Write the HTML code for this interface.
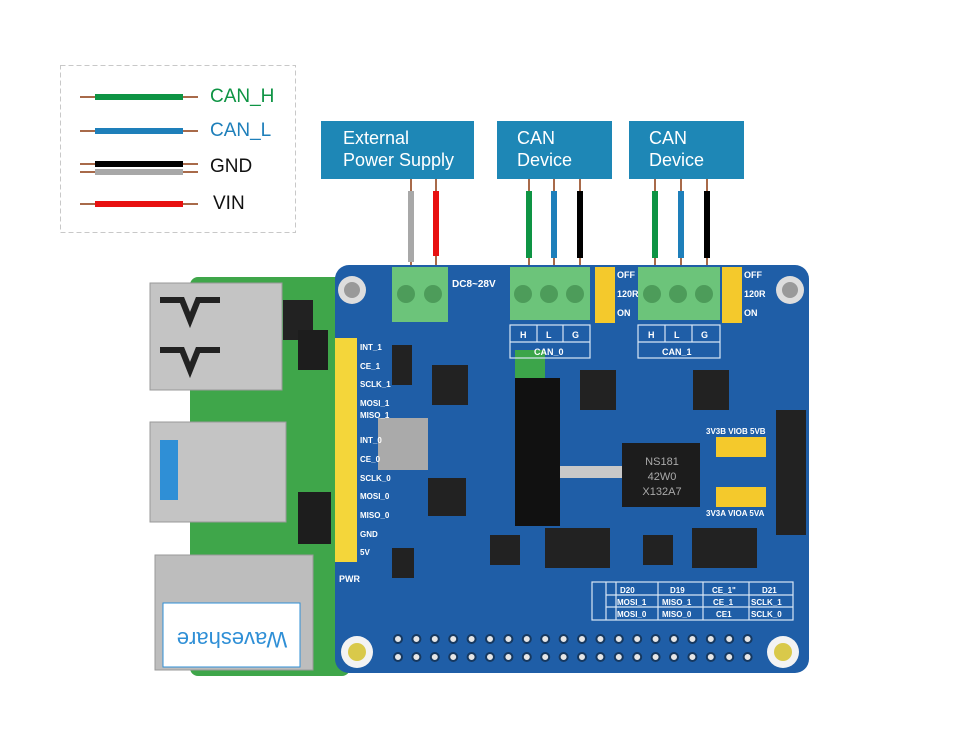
<!DOCTYPE html>
<html><head><meta charset="utf-8"><style>
html,body{margin:0;padding:0;background:#fff;}
body{width:960px;height:750px;overflow:hidden;position:relative;font-family:"Liberation Sans","Noto Sans CJK SC",sans-serif;}
.box{position:absolute;background:#1e87b6;color:#fff;font-size:18px;line-height:22px;padding:6px 0 0 0;box-sizing:border-box;}
.lg{position:absolute;font-size:19px;}
</style></head><body>
<svg width="960" height="750" style="position:absolute;left:0;top:0" xmlns="http://www.w3.org/2000/svg">
<!-- legend -->
<rect x="60.5" y="65.5" width="235" height="167" fill="none" stroke="#c8c8c8" stroke-dasharray="5,3"/>
<g stroke-linecap="butt">
<line x1="80" y1="97" x2="198" y2="97" stroke="#a86a4a" stroke-width="2"/><line x1="95" y1="97" x2="183" y2="97" stroke="#0e9444" stroke-width="6"/>
<line x1="80" y1="131" x2="198" y2="131" stroke="#a86a4a" stroke-width="2"/><line x1="95" y1="131" x2="183" y2="131" stroke="#1e7fba" stroke-width="6"/>
<line x1="80" y1="164" x2="198" y2="164" stroke="#a86a4a" stroke-width="2"/><line x1="95" y1="164" x2="183" y2="164" stroke="#000" stroke-width="6"/>
<line x1="80" y1="172" x2="198" y2="172" stroke="#a86a4a" stroke-width="2"/><line x1="95" y1="172" x2="183" y2="172" stroke="#a8a8a8" stroke-width="6"/>
<line x1="80" y1="204" x2="198" y2="204" stroke="#a86a4a" stroke-width="2"/><line x1="95" y1="204" x2="183" y2="204" stroke="#e81010" stroke-width="6"/>
</g>
<!-- wires -->
<g stroke-width="2" stroke="#a86a4a">
<line x1="411" y1="178" x2="411" y2="270"/><line x1="436" y1="178" x2="436" y2="270"/>
<line x1="529" y1="178" x2="529" y2="275"/><line x1="554" y1="178" x2="554" y2="275"/><line x1="580" y1="178" x2="580" y2="275"/>
<line x1="655" y1="178" x2="655" y2="275"/><line x1="681" y1="178" x2="681" y2="275"/><line x1="707" y1="178" x2="707" y2="275"/>
</g>
<g stroke-width="6">
<line x1="411" y1="191" x2="411" y2="262" stroke="#a8a8a8"/><line x1="436" y1="191" x2="436" y2="256" stroke="#e81010"/>
<line x1="529" y1="191" x2="529" y2="258" stroke="#0e9444"/><line x1="554" y1="191" x2="554" y2="258" stroke="#1e7fba"/><line x1="580" y1="191" x2="580" y2="258" stroke="#000"/>
<line x1="655" y1="191" x2="655" y2="258" stroke="#0e9444"/><line x1="681" y1="191" x2="681" y2="258" stroke="#1e7fba"/><line x1="707" y1="191" x2="707" y2="258" stroke="#000"/>
</g>
<!-- Pi board -->
<rect x="190" y="277" width="160" height="399" rx="8" fill="#3fa64a"/>
<rect x="283" y="300" width="30" height="40" fill="#222"/><rect x="298" y="330" width="30" height="40" fill="#1d1d1d"/>
<rect x="298" y="492" width="33" height="52" fill="#1d1d1d"/>
<rect x="150" y="283" width="132" height="107" fill="#c4c4c4" stroke="#999"/>
<path d="M160 300 l22 0 l8 20 l8 -20 l22 0" stroke="#222" stroke-width="6" fill="none"/>
<path d="M160 350 l22 0 l8 20 l8 -20 l22 0" stroke="#222" stroke-width="6" fill="none"/>
<rect x="150" y="422" width="136" height="100" fill="#c4c4c4" stroke="#999"/>
<rect x="160" y="440" width="18" height="60" fill="#2f8fd6"/>
<rect x="155" y="555" width="158" height="115" fill="#bdbdbd" stroke="#999"/>
<rect x="163" y="603" width="137" height="64" fill="#fff" stroke="#2f8fd6"/>
<text x="232" y="648" font-size="22" fill="#2f8fd6" text-anchor="middle" transform="rotate(180 232 640)" font-family="Liberation Sans">Waveshare</text>
<!-- HAT -->
<rect x="335" y="265" width="474" height="408" rx="14" fill="#1f5ea7"/>
<rect x="515" y="350" width="30" height="80" fill="#3ca54a"/>
<rect x="515" y="378" width="45" height="148" fill="#111"/>
<rect x="560" y="466" width="65" height="12" fill="#c8c8c8"/>
<rect x="622" y="443" width="78" height="64" fill="#1c1c1c"/>
<text x="662" y="465" font-size="11" fill="#aaa" text-anchor="middle">NS181</text>
<text x="662" y="480" font-size="11" fill="#aaa" text-anchor="middle">42W0</text>
<text x="662" y="495" font-size="11" fill="#aaa" text-anchor="middle">X132A7</text>
<rect x="378" y="418" width="50" height="52" fill="#aaa"/>
<rect x="776" y="410" width="30" height="125" fill="#222"/>
<g fill="#222">
<rect x="432" y="365" width="36" height="40"/><rect x="580" y="370" width="36" height="40"/><rect x="693" y="370" width="36" height="40"/>
<rect x="428" y="478" width="38" height="38"/><rect x="545" y="528" width="65" height="40"/><rect x="692" y="528" width="65" height="40"/>
<rect x="490" y="535" width="30" height="30"/><rect x="643" y="535" width="30" height="30"/><rect x="392" y="548" width="22" height="30"/>
</g>
<rect x="392" y="345" width="20" height="40" fill="#222"/>
<!-- terminals -->
<rect x="392" y="267" width="56" height="55" fill="#6cc47a"/>
<circle cx="406" cy="294" r="9" fill="#4d9c5a"/><circle cx="433" cy="294" r="9" fill="#4d9c5a"/>
<rect x="510" y="267" width="80" height="53" fill="#6cc47a"/>
<circle cx="523" cy="294" r="9" fill="#4d9c5a"/><circle cx="549" cy="294" r="9" fill="#4d9c5a"/><circle cx="575" cy="294" r="9" fill="#4d9c5a"/>
<rect x="638" y="267" width="82" height="53" fill="#6cc47a"/>
<circle cx="652" cy="294" r="9" fill="#4d9c5a"/><circle cx="678" cy="294" r="9" fill="#4d9c5a"/><circle cx="704" cy="294" r="9" fill="#4d9c5a"/>
<rect x="595" y="267" width="20" height="56" fill="#f4c92c"/><rect x="722" y="267" width="20" height="56" fill="#f4c92c"/>
<rect x="716" y="437" width="50" height="20" fill="#f4c92c"/><rect x="716" y="487" width="50" height="20" fill="#f4c92c"/>
<rect x="335" y="338" width="22" height="224" fill="#f4d63a"/>
<!-- mounting holes -->
<circle cx="352" cy="290" r="14" fill="#ddd"/><circle cx="352" cy="290" r="8" fill="#999"/>
<circle cx="790" cy="290" r="14" fill="#ddd"/><circle cx="790" cy="290" r="8" fill="#999"/>
<circle cx="357" cy="652" r="16" fill="#f3f3f3"/><circle cx="357" cy="652" r="9" fill="#d9c94a"/>
<circle cx="783" cy="652" r="16" fill="#f3f3f3"/><circle cx="783" cy="652" r="9" fill="#d9c94a"/>
<!-- header holes -->
<g fill="#e6e6e6" stroke="#1a3f70" stroke-width="2">
<script></script>
</g>
<g id="holes"></g>
<!-- CAN labels -->
<g stroke="#d8e6f5" stroke-width="1.2" fill="none">
<rect x="510" y="325" width="80" height="33"/><line x1="510" y1="342" x2="590" y2="342"/><line x1="537" y1="325" x2="537" y2="342"/><line x1="563" y1="325" x2="563" y2="342"/>
<rect x="638" y="325" width="82" height="33"/><line x1="638" y1="342" x2="720" y2="342"/><line x1="665" y1="325" x2="665" y2="342"/><line x1="692" y1="325" x2="692" y2="342"/>
<rect x="592" y="582" width="201" height="38"/><line x1="606" y1="582" x2="606" y2="620"/><line x1="616" y1="582" x2="616" y2="620"/><line x1="606" y1="595" x2="793" y2="595"/><line x1="606" y1="607" x2="793" y2="607"/>
<line x1="658" y1="582" x2="658" y2="620"/><line x1="703" y1="582" x2="703" y2="620"/><line x1="749" y1="582" x2="749" y2="620"/>
</g>
<g fill="#fff" font-size="9" font-weight="bold" font-family="Liberation Sans">
<text x="520" y="338">H</text><text x="546" y="338">L</text><text x="572" y="338">G</text><text x="534" y="355">CAN_0</text>
<text x="648" y="338">H</text><text x="674" y="338">L</text><text x="701" y="338">G</text><text x="662" y="355">CAN_1</text>
<text x="452" y="287" font-size="10">DC8~28V</text>
<text x="617" y="278">OFF</text><text x="617" y="297">120R</text><text x="617" y="316">ON</text>
<text x="744" y="278">OFF</text><text x="744" y="297">120R</text><text x="744" y="316">ON</text>
<text x="706" y="434" font-size="8">3V3B VIOB 5VB</text><text x="706" y="516" font-size="8">3V3A VIOA 5VA</text>
<text x="339" y="582">PWR</text>
<g font-size="8"><text x="620" y="593">D20</text><text x="670" y="593">D19</text><text x="712" y="593">CE_1"</text><text x="762" y="593">D21</text>
<text x="617" y="605">MOSI_1</text><text x="662" y="605">MISO_1</text><text x="713" y="605">CE_1</text><text x="751" y="605">SCLK_1</text>
<text x="617" y="617">MOSI_0</text><text x="662" y="617">MISO_0</text><text x="716" y="617">CE1</text><text x="751" y="617">SCLK_0</text>
<text x="360" y="350">INT_1</text><text x="360" y="369">CE_1</text><text x="360" y="387">SCLK_1</text><text x="360" y="406">MOSI_1</text><text x="360" y="418">MISO_1</text>
<text x="360" y="443">INT_0</text><text x="360" y="462">CE_0</text><text x="360" y="481">SCLK_0</text><text x="360" y="499">MOSI_0</text><text x="360" y="518">MISO_0</text>
<text x="360" y="537">GND</text><text x="360" y="555">5V</text></g>
</g>
<g fill="#e6e6e6" stroke="#16385f" stroke-width="2">
<circle cx="398" cy="639" r="4"/><circle cx="416.4" cy="639" r="4"/><circle cx="434.8" cy="639" r="4"/><circle cx="453.2" cy="639" r="4"/><circle cx="471.6" cy="639" r="4"/><circle cx="490" cy="639" r="4"/><circle cx="508.4" cy="639" r="4"/><circle cx="526.8" cy="639" r="4"/><circle cx="545.2" cy="639" r="4"/><circle cx="563.6" cy="639" r="4"/><circle cx="582" cy="639" r="4"/><circle cx="600.4" cy="639" r="4"/><circle cx="618.8" cy="639" r="4"/><circle cx="637.2" cy="639" r="4"/><circle cx="655.6" cy="639" r="4"/><circle cx="674" cy="639" r="4"/><circle cx="692.4" cy="639" r="4"/><circle cx="710.8" cy="639" r="4"/><circle cx="729.2" cy="639" r="4"/><circle cx="747.6" cy="639" r="4"/>
<circle cx="398" cy="657" r="4"/><circle cx="416.4" cy="657" r="4"/><circle cx="434.8" cy="657" r="4"/><circle cx="453.2" cy="657" r="4"/><circle cx="471.6" cy="657" r="4"/><circle cx="490" cy="657" r="4"/><circle cx="508.4" cy="657" r="4"/><circle cx="526.8" cy="657" r="4"/><circle cx="545.2" cy="657" r="4"/><circle cx="563.6" cy="657" r="4"/><circle cx="582" cy="657" r="4"/><circle cx="600.4" cy="657" r="4"/><circle cx="618.8" cy="657" r="4"/><circle cx="637.2" cy="657" r="4"/><circle cx="655.6" cy="657" r="4"/><circle cx="674" cy="657" r="4"/><circle cx="692.4" cy="657" r="4"/><circle cx="710.8" cy="657" r="4"/><circle cx="729.2" cy="657" r="4"/><circle cx="747.6" cy="657" r="4"/>
</g>
</svg>
<div class="lg" style="left:210px;top:86px;color:#0e9444">CAN_H</div>
<div class="lg" style="left:210px;top:120px;color:#1e7fba">CAN_L</div>
<div class="lg" style="left:210px;top:156px;color:#111">GND</div>
<div class="lg" style="left:213px;top:193px;color:#111">VIN</div>
<div class="box" style="left:321px;top:121px;width:153px;height:58px;padding-left:22px">External<br>Power Supply</div>
<div class="box" style="left:497px;top:121px;width:115px;height:58px;padding-left:20px">CAN<br>Device</div>
<div class="box" style="left:629px;top:121px;width:115px;height:58px;padding-left:20px">CAN<br>Device</div>
</body></html>
